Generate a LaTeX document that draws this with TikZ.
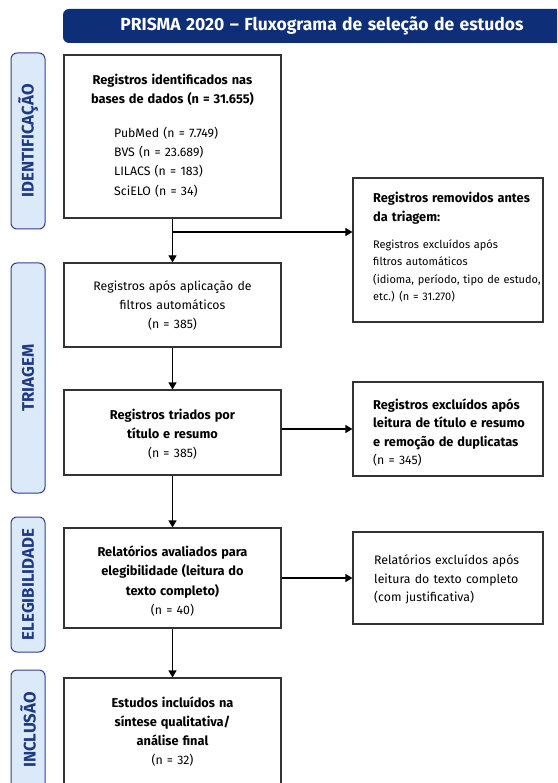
\documentclass[tikz,border=0pt]{standalone}
\usepackage{fontspec}
\setmainfont[WordSpace=1.3,Numbers=Lining]{Fira Sans}
\usetikzlibrary{arrows.meta}
\definecolor{banner}{HTML}{0E2F78}
\definecolor{sidefill}{HTML}{DCE9F8}
\definecolor{sideline}{HTML}{2F4288}
\definecolor{sidetext}{HTML}{1E3A82}
\definecolor{boxline}{HTML}{333333}
\newcommand{\fsmain}{\fontsize{12.3}{19.3}\selectfont}
\newcommand{\fsbold}{\fontsize{12.8}{19.3}\selectfont\bfseries}
\newcommand{\fssmall}{\fontsize{11}{17.3}\selectfont}
\tikzset{
  x=1pt, y=-1pt,
  box/.style={draw=boxline, line width=1.1pt, fill=white, inner sep=0pt, minimum width=217pt},
  rbox/.style={draw=boxline, line width=1.1pt, fill=white, inner sep=0pt, minimum width=190pt},
  side/.style={draw=sideline, line width=1pt, fill=sidefill, rounded corners=6pt, rotate=90,
     minimum height=34pt, inner sep=0pt, text=sidetext, font=\fontsize{16.8}{18}\selectfont\bfseries},
  ctext/.style={align=center, inner sep=0pt, font=\fsmain, text=black},
  ltext/.style={align=left, inner sep=0pt, anchor=west, font=\fsmain, text=black},
  stext/.style={align=left, inner sep=0pt, anchor=west, font=\fssmall, text=black},
  arr/.style={draw=black, line width=1.1pt, -{Triangle[length=7pt,width=8pt]}},
  ln/.style={draw=black, line width=1.1pt},
}
\begin{document}
\begin{tikzpicture}
\useasboundingbox (0,0) rectangle (557,783);
\clip (0,0) rectangle (557,783);
\fill[white] (0,0) rectangle (557,783);
% title banner
\node[fill=banner, rounded corners=6pt, minimum width=518pt, minimum height=34pt, inner sep=0pt,
      text=white, font=\fontsize{17.5}{19}\selectfont\bfseries] (title) at (322,26)
      {PRISMA 2020 – Fluxograma de seleção de estudos};
% side labels
\node[side, minimum width=176pt] (sid) at (28,141) {IDENTIFICAÇÃO};
\node[side, minimum width=230pt] (stri) at (28,378) {TRIAGEM};
\node[side, minimum width=135pt] (sele) at (28,584.5) {ELEGIBILIDADE};
\node[side, minimum width=120pt] (sinc) at (28,730) {INCLUSÃO};
% main boxes
\node[box, minimum height=163pt] (b1) at (172.5,136.5) {};
\node[box, minimum height=84pt] (b2) at (172.5,305) {};
\node[box, minimum height=85pt] (b3) at (172.5,432.5) {};
\node[box, minimum height=100pt] (b4) at (172.5,578) {};
\node[box, minimum height=112pt] (b5) at (172.5,734) {};
% right boxes
\node[rbox, minimum height=144pt] (r1) at (448,250) {};
\node[rbox, minimum height=94pt] (r2) at (448,429) {};
\node[rbox, minimum height=92pt] (r3) at (448,578) {};
% texts
\node[ctext] (t1a) at (172.5,90) {{\fsbold Registros identificados nas}\\{\fsbold bases de dados (n = 31.655)}};
\node[ltext] (t1b) at (114,162) {PubMed (n = 7.749)\\BVS (n = 23.689)\\LILACS (n = 183)\\SciELO (n = 34)};
\node[ltext] (tr1a) at (373,208) {{\fsbold Registros removidos antes}\\{\fsbold da triagem:}};
\node[stext] (tr1b) at (373,271) {Registros excluídos após\\filtros automáticos\\(idioma, período, tipo de estudo,\\etc.) (n = 31.270)};
\node[ctext] (t2) at (172.5,305.5) {Registros após aplicação de\\filtros automáticos\\(n = 385)};
\node[ctext] (t3) at (172.5,434) {{\fsbold Registros triados por}\\{\fsbold título e resumo}\\(n = 385)};
\node[ltext, font=\fontsize{12.3}{18.5}\selectfont] (tr2) at (373,432.5) {{\fsbold Registros excluídos após}\\{\fsbold leitura de título e resumo}\\{\fsbold e remoção de duplicatas}\\(n = 345)};
\node[ctext] (t4) at (172.5,581) {{\fsbold Relatórios avaliados para}\\{\fsbold elegibilidade (leitura do}\\{\fsbold texto completo)}\\(n = 40)};
\node[ltext, font=\fontsize{12.3}{18.5}\selectfont] (tr3) at (374,579.5) {Relatórios excluídos após\\leitura do texto completo\\(com justificativa)};
\node[ctext] (t5) at (172.5,731.5) {{\fsbold Estudos incluídos na}\\{\fsbold síntese qualitativa/}\\{\fsbold análise final}\\(n = 32)};
% connectors
\coordinate (j1) at (172.5,232);
\draw[ln] (b1.south) -- (j1);
\draw[arr] (j1) -- (b2.north);
\draw[arr] (j1) -- (j1 -| r1.west);
\draw[arr] (b2.south) -- (b3.north);
\draw[arr] (b3.east |- r2.west) -- (r2.west);
\draw[arr] (b3.south) -- (b4.north);
\draw[arr] (b4.east |- r3.west) -- (r3.west);
\draw[arr] (b4.south) -- (b5.north);
\end{tikzpicture}
\end{document}
